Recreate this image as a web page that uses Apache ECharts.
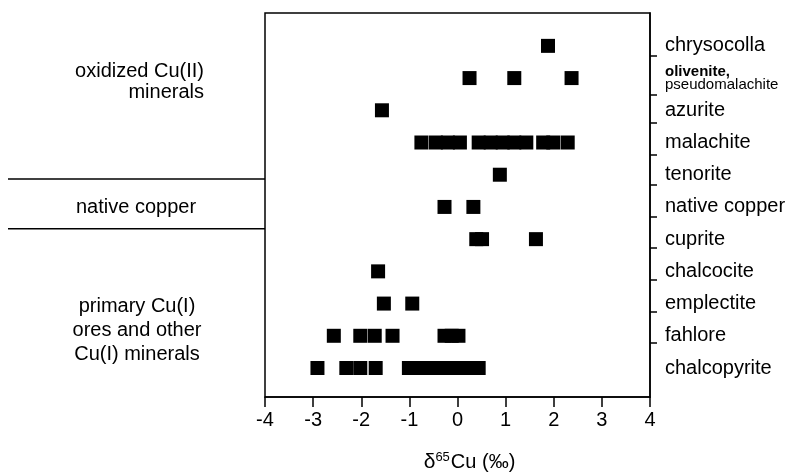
<!doctype html>
<html>
<head>
<meta charset="utf-8">
<title>δ65Cu of copper minerals</title>
<script src="https://cdn.jsdelivr.net/npm/echarts@6/dist/echarts.min.js"></script>
<style>
html,body{margin:0;padding:0;background:#fff;}
#chart{width:791px;height:472px;}
</style>
</head>
<body>
<div id="chart"></div>
<script>
// rows, bottom (0) to top (10)
var minerals = ['chalcopyrite','fahlore','emplectite','chalcocite','cuprite','native copper','tenorite','malachite','azurite','olivenite','chrysocolla'];

// δ65Cu values
var chalcopyrite = [-2.91,-2.31,-2.02,-1.70,-1.01,-0.77,-0.53,-0.29,-0.04,0.20,0.44];
var fahlore      = [-2.57,-2.02,-1.72,-1.35,-0.27,-0.12,0.02];
var emplectite   = [-1.53,-0.94];
var chalcocite   = [-1.65];
var cuprite      = [0.39,0.51,1.63];
var nativeCopper = [-0.27,0.33];
var tenorite     = [0.88];
var malachite    = [-0.75,-0.45,-0.20,0.05,0.44,0.69,0.94,1.18,1.43,1.78,1.99,2.29];
var azurite      = [-1.57];
var olivenite    = [0.25,1.18,2.37];
var chrysocolla  = [1.88];

var rows = [chalcopyrite,fahlore,emplectite,chalcocite,cuprite,nativeCopper,tenorite,malachite,azurite,olivenite,chrysocolla];

var xTicks = [-4,-3,-2,-1,0,1,2,3,4];
var rightTicks = [0.78,1.74,2.73,3.73,4.69,5.68,6.61,7.61,8.48,9.69];
var dividers = [5.87,4.32];

var font = "'Liberation Sans', Arial, Helvetica, sans-serif";

var points = [];
rows.forEach(function(vals,i){
	vals.forEach(function(v){ points.push([v,i]); });
});

var chart = echarts.init(document.getElementById('chart'));
var option = {
	animation:false,
	backgroundColor:'#fff',
	grid:{
		left:265, right:141, top:13, bottom:75,
		show:true, borderColor:'#000', borderWidth:1.5,
		containLabel:false, outerBoundsMode:'none'
	},
	xAxis:{
		type:'value',
		min:xTicks[0], max:xTicks[xTicks.length-1], interval:1,
		axisLine:{show:true, onZero:false, lineStyle:{color:'#000', width:1.5}},
		axisTick:{show:true, length:10, lineStyle:{color:'#000', width:1.5}},
		axisLabel:{color:'#000', fontSize:20, fontFamily:font, margin:13},
		splitLine:{show:false},
		name:'{d|δ}{s|65}{n|Cu (‰)}',
		nameLocation:'middle',
		nameGap:54,
		nameTextStyle:{
			padding:[0,0,0,24],
			rich:{
				d:{fontSize:21, fontFamily:font, color:'#000'},
				s:{fontSize:13, fontFamily:font, color:'#000', padding:[0,1,9,0]},
				n:{fontSize:20, fontFamily:font, color:'#000'}
			}
		}
	},
	yAxis:{
		type:'value',
		position:'right',
		min:-0.9, max:11.02,
		axisLine:{show:true, onZero:false, lineStyle:{color:'#000', width:1.5}},
		axisTick:{show:true, length:7, customValues:rightTicks, lineStyle:{color:'#000', width:1.5}},
		axisLabel:{
			customValues:minerals.map(function(m,i){ return i; }),
			margin:15, color:'#000', fontSize:20, fontFamily:font,
			formatter:function(v){
				var name = minerals[Math.round(v)];
				if(name==='olivenite') return '{b|olivenite,}\n{s|pseudomalachite}';
				return name;
			},
			rich:{
				b:{fontWeight:'bold', fontSize:15, lineHeight:13, fontFamily:font, color:'#000'},
				s:{fontSize:15, lineHeight:13, fontFamily:font, color:'#000'}
			}
		},
		splitLine:{show:false}
	},
	series:[{
		type:'scatter',
		symbol:'rect',
		symbolSize:14,
		itemStyle:{color:'#000', opacity:1},
		emphasis:{disabled:true},
		data:points
	}]
};
chart.setOption(option);

// group dividers and labels on the left
var yA = chart.convertToPixel({yAxisIndex:0}, dividers[0]);
var yB = chart.convertToPixel({yAxisIndex:0}, dividers[1]);
function txt(s,x,y,align){
	return {type:'text', silent:true, style:{text:s, x:x, y:y, align:align, verticalAlign:'middle', fontSize:20, fontFamily:font, fill:'#000'}};
}
chart.setOption({
	graphic:[
		{type:'line', silent:true, shape:{x1:8,y1:yA,x2:265,y2:yA}, style:{stroke:'#000', lineWidth:1.5}},
		{type:'line', silent:true, shape:{x1:8,y1:yB,x2:265,y2:yB}, style:{stroke:'#000', lineWidth:1.5}},
		txt('oxidized Cu(II)',204,71,'right'),
		txt('minerals',204,92,'right'),
		txt('native copper',136,207,'center'),
		txt('primary Cu(I)',137,306,'center'),
		txt('ores and other',137,330,'center'),
		txt('Cu(I) minerals',137,354,'center')
	]
});
</script>
</body>
</html>
